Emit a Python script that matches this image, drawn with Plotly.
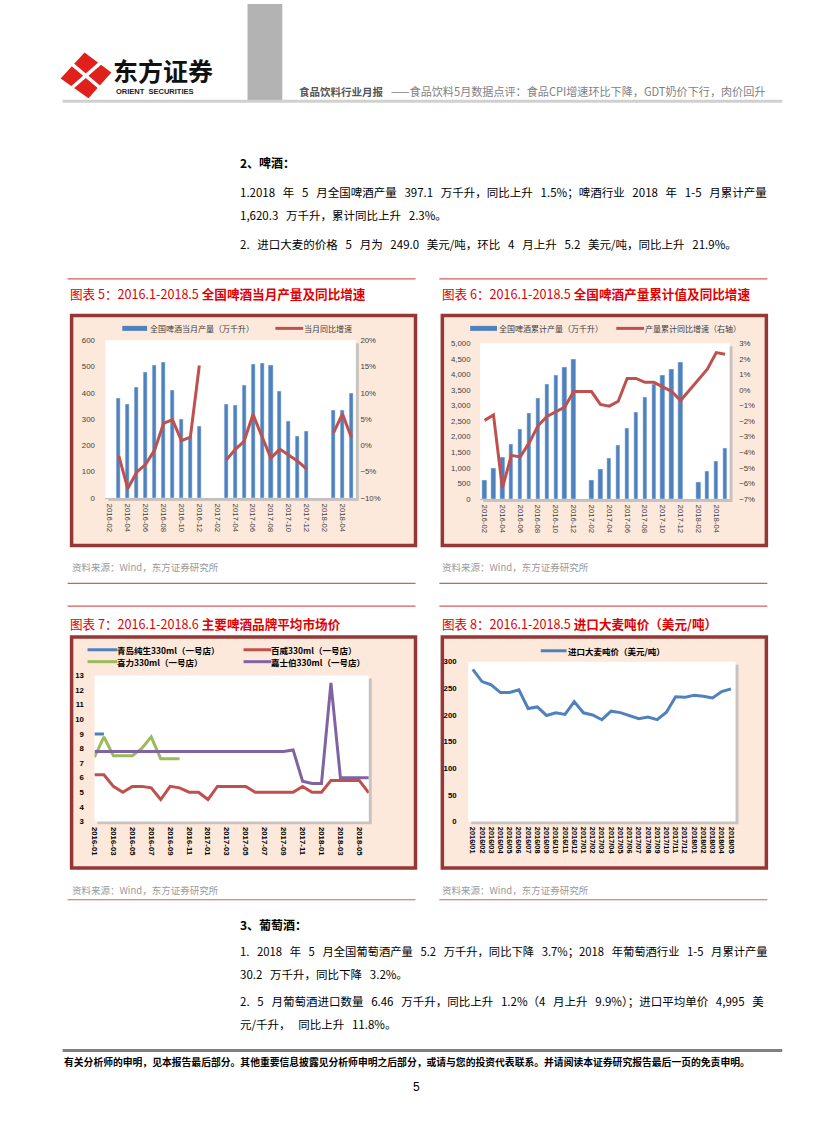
import plotly.graph_objects as go

W, H = 827, 1122
CJK = "Noto Sans CJK SC, Liberation Sans, sans-serif"
LAT = "Liberation Sans, Noto Sans CJK SC, sans-serif"

# ---------------- data ----------------
months5 = ["2016-02", "2016-03", "2016-04", "2016-05", "2016-06", "2016-07", "2016-08",
           "2016-09", "2016-10", "2016-11", "2016-12", "2017-01", "2017-02", "2017-03",
           "2017-04", "2017-05", "2017-06", "2017-07", "2017-08", "2017-09", "2017-10",
           "2017-11", "2017-12", "2018-01", "2018-02", "2018-03", "2018-04", "2018-05"]
beer_month = [None, 380, 355, 423, 479, 506, 515, 408, 298, 231, 272, None, None, 357,
              354, 429, 508, 513, 504, 407, 291, 234, 253, None, None, 335, 335, 397.1]
beer_month_yoy = [None, -2.0, -8.2, -5.1, -3.6, -0.9, 4.2, 4.9, 0.9, 1.6, 15.2, None, None, -2.8,
                  -0.8, 0.8, 5.9, 1.7, -2.4, -0.7, -1.8, -3.0, -4.5, None, None, 2.4, 6.0, 1.5]
beer_cum = [616, 987, 1338, 1752, 2240, 2739, 3248, 3673, 3970, 4225, 4490, None, 595, 945,
            1306, 1741, 2261, 2771, 3280, 3694, 3981, 4161, 4384, None, 552, 881, 1210, 1620.3]
beer_cum_yoy = [-1.95, -1.6, -6.3, -4.2, -4.3, -3.4, -2.3, -1.7, -1.4, -1.1, -0.1, None, -0.1, -0.93,
                -1.04, -0.72, 0.74, 0.74, 0.49, 0.49, 0.17, -0.1, -0.68, None, 0.7, 1.34, 2.4, 2.3]

months7 = ["2016-01", "2016-02", "2016-03", "2016-04", "2016-05", "2016-06", "2016-07", "2016-08",
           "2016-09", "2016-10", "2016-11", "2016-12", "2017-01", "2017-02", "2017-03", "2017-04",
           "2017-05", "2017-06", "2017-07", "2017-08", "2017-09", "2017-10", "2017-11", "2017-12",
           "2018-01", "2018-02", "2018-03", "2018-04", "2018-05", "2018-06"]
tsingtao = [9.0, 9.0, None, None, None, None, None, None, None, None, None, None, None, None, None,
            None, None, None, None, None, None, None, None, None, None, None, None, None, None, None]
budweiser = [6.2, 6.2, 5.4, 5.0, 5.4, 5.4, 5.3, 4.5, 5.4, 5.3, 5.0, 5.0, 4.5, 5.4, 5.4,
             5.4, 5.4, 5.0, 5.0, 5.0, 5.0, 5.0, 5.4, 5.0, 5.0, 5.8, 5.8, 5.8, 5.8, 4.95]
heineken = [7.4, 8.8, 7.5, 7.5, 7.5, 8.0, 8.8, 7.3, 7.3, 7.3, None, None, None, None, None,
            None, None, None, None, None, None, None, None, None, None, None, None, None, None, None]
carlsberg = [7.8, 7.8, 7.8, 7.8, 7.8, 7.8, 7.8, 7.8, 7.8, 7.8, 7.8, 7.8, 7.8, 7.8, 7.8,
             7.8, 7.8, 7.8, 7.8, 7.8, 7.8, 7.9, 5.76, 5.6, 5.6, 12.5, 6.0, 6.0, 6.0, 6.0]
months7_ticks = ["2016-01", "2016-03", "2016-05", "2016-07", "2016-09", "2016-11", "2017-01",
                 "2017-03", "2017-05", "2017-07", "2017-09", "2017-11", "2018-01", "2018-03", "2018-05"]

months8 = ["2016/01", "2016/02", "2016/03", "2016/04", "2016/05", "2016/06", "2016/07", "2016/08",
           "2016/09", "2016/10", "2016/11", "2016/12", "2017/01", "2017/02", "2017/03", "2017/04",
           "2017/05", "2017/06", "2017/07", "2017/08", "2017/09", "2017/10", "2017/11", "2017/12",
           "2018/01", "2018/02", "2018/03", "2018/04", "2018/05"]
barley = [285.7, 262.7, 256.5, 242.0, 242.0, 247.0, 212.0, 215.0, 199.0, 204.0, 201.0, 225.0,
          204.0, 200.0, 191.0, 207.0, 204.3, 198.0, 193.0, 196.0, 191.0, 205.0, 234.0, 233.0,
          237.0, 235.0, 232.0, 243.8, 249.0]

# ---------------- helpers ----------------
def px(x): return x / W
def py(y): return 1 - y / H

shapes, annotations = [], []

def add_rect(x0, y0, x1, y1, fill=None, lc=None, lw=0, layer="below"):
    shapes.append(dict(type="rect", xref="paper", yref="paper", x0=px(x0), x1=px(x1),
                       y0=py(y1), y1=py(y0), fillcolor=fill or "rgba(0,0,0,0)",
                       line=dict(color=lc or "rgba(0,0,0,0)", width=lw), layer=layer))

def add_line(x0, y0, x1, y1, color, w, layer="above"):
    shapes.append(dict(type="line", xref="paper", yref="paper", x0=px(x0), y0=py(y0),
                       x1=px(x1), y1=py(y1), line=dict(color=color, width=w), layer=layer))

def add_path(points, fill):
    d = "M " + " L ".join(f"{px(x):.5f},{py(y):.5f}" for x, y in points) + " Z"
    shapes.append(dict(type="path", xref="paper", yref="paper", path=d, fillcolor=fill,
                       line=dict(width=0), layer="above"))

def add_text(x, y, s, size, color="#000000", xanchor="left", family=CJK, weight="normal"):
    annotations.append(dict(x=px(x), y=py(y), xref="paper", yref="paper", text=s, showarrow=False,
                            xanchor=xanchor, yanchor="middle", borderpad=0,
                            font=dict(size=size, color=color, family=family, weight=weight)))

def wide(s):
    # body copy in the report uses wide word spacing around numbers
    return s.replace(" ", "\u00a0\u00a0\u00a0")

# ---------------- page furniture ----------------
# logo
add_path([(80, 49), (107, 69), (84, 95), (56, 75)], "#E0201B")
add_line(62, 56, 101, 89, "#FFFFFF", 3.5)
add_line(101, 55, 61, 90, "#FFFFFF", 3.5)
add_text(108, 67, "<b>东方证券</b>", 25, "#111111")
add_text(111, 88, "<b>ORIENT  SECURITIES</b>", 7.5, "#222222", family=LAT)
# grey header bar and rule
add_rect(244, 0, 279, 97, fill="#B3B3B3", layer="above")
add_line(58, 98, 782, 98, "#D0D0D0", 3)
add_text(295, 88, "<b>食品饮料行业月报</b>", 10.5, "#555555")
add_text(387, 88, "——食品饮料5月数据点评：食品CPI增速环比下降，GDT奶价下行，肉价回升", 11.1, "#7F7F7F")

# body text
BODY = 11.5
add_text(235, 160, "<b>2、啤酒：</b>", 12, "#000000")
add_text(235, 190, wide("1.2018 年 5 月全国啤酒产量 397.1 万千升，同比上升 1.5%；啤酒行业 2018 年 1-5 月累计产量"), BODY)
add_text(235, 213, wide("1,620.3 万千升，累计同比上升 2.3%。"), BODY)
add_text(235, 242, wide("2. 进口大麦的价格 5 月为 249.0 美元/吨，环比 4 月上升 5.2 美元/吨，同比上升 21.9%。"), BODY)

add_text(235, 928, "<b>3、葡萄酒：</b>", 12, "#000000")
add_text(235, 955, wide("1. 2018 年 5 月全国葡萄酒产量 5.2 万千升，同比下降 3.7%；2018 年葡萄酒行业 1-5 月累计产量"), 11.3)
add_text(235, 978, wide("30.2 万千升，同比下降 3.2%。"), BODY)
add_text(235, 1005, wide("2. 5 月葡萄酒进口数量 6.46 万千升，同比上升 1.2%（4 月上升 9.9%）；进口平均单价 4,995 美"), BODY)
add_text(235, 1028, wide("元/千升， 同比上升 11.8%。"), BODY)

# footer
add_line(58, 1055, 782, 1055, "#808080", 3)
add_text(58, 1067, "<b>有关分析师的申明，见本报告最后部分。其他重要信息披露见分析师申明之后部分，或请与您的投资代表联系。并请阅读本证券研究报告最后一页的免责申明。</b>", 9.8, "#000000")
add_text(414, 1092, "5", 12, "#000000", xanchor="center", family=LAT)

# chart frames, titles, sources
for (xl, xr) in [(63, 413), (437, 767)]:
    add_line(xl, 277, xr, 277, "#D65C5C", 1.2)
    add_line(xl, 584, xr, 584, "#D65C5C", 1.2)
    add_line(xl, 607, xr, 607, "#D65C5C", 1.2)
    add_line(xl, 903, xr, 903, "#D65C5C", 1.2)
TITLE = "#E00000"
TS = 12.6
add_text(64, 292, "图表 5：2016.1-2018.5 <b>全国啤酒当月产量及同比增速</b>", TS, TITLE)
add_text(439, 292, "图表 6：2016.1-2018.5 <b>全国啤酒产量累计值及同比增速</b>", TS, TITLE)
add_text(64, 625, "图表 7：2016.1-2018.6 <b>主要啤酒品牌平均市场价</b>", TS, TITLE)
add_text(439, 625, "图表 8：2016.1-2018.5 <b>进口大麦吨价（美元/吨）</b>", TS, TITLE)
for xs in (66, 439):
    add_text(xs, 568, "资料来源：Wind，东方证券研究所", 9.5, "#9A9A9A")
    add_text(xs, 893, "资料来源：Wind，东方证券研究所", 9.5, "#9A9A9A")

BOX_FILL = "#FCE9DC"
BOX_LINE = "#953735"
boxes = [(67, 314, 413, 546), (440, 314, 766, 546), (67, 638, 413, 871), (440, 638, 766, 871)]
plots = [(101, 339, 353, 498), (478, 342, 729, 499), (90, 677, 366, 824), (466, 663, 735, 824)]
for b in boxes:
    add_rect(*b, fill=BOX_FILL, lc=BOX_LINE, lw=3.5)
for p in plots:
    add_rect(p[0] + 3, p[1] + 3, p[2] + 3, p[3] + 3, fill="#C9C3C0")
    add_rect(*p, fill="#FFFFFF")

# manual legends
BLUE, LRED, GREEN, PURPLE = "#4F81BD", "#C0504D", "#9BBB59", "#8064A2"
add_line(118, 327, 143, 327, BLUE, 5)
add_text(145, 327, "全国啤酒当月产量（万千升）", 8, "#404040")
add_line(272, 327, 300, 327, LRED, 3)
add_text(300, 327, "当月同比增速", 8, "#404040")
add_line(468, 327, 495, 327, BLUE, 5)
add_text(496, 327, "全国啤酒累计产量（万千升）", 8, "#404040")
add_line(615, 327, 643, 327, LRED, 3)
add_text(643, 327, "产量累计同比增速（右轴）", 8, "#404040")
add_line(83, 651, 113, 651, BLUE, 3)
add_text(112, 651, "<b>青岛纯生330ml（一号店）</b>", 8.5, "#000000")
add_line(240, 651, 268, 651, LRED, 3)
add_text(267, 651, "<b>百威330ml（一号店）</b>", 8.5, "#000000")
add_line(83, 663, 113, 663, GREEN, 3)
add_text(112, 663, "<b>喜力330ml（一号店）</b>", 8.5, "#000000")
add_line(240, 663, 268, 663, PURPLE, 3)
add_text(267, 663, "<b>嘉士伯330ml（一号店）</b>", 8.5, "#000000")
add_line(539, 652, 565, 652, BLUE, 3)
add_text(565, 652, "<b>进口大麦吨价（美元/吨）</b>", 8.5, "#000000")

# ---------------- traces ----------------
fig = go.Figure()
fig.add_trace(go.Bar(x=months5, y=beer_month, marker_color=BLUE, width=0.45,
                     xaxis="x", yaxis="y", showlegend=False))
fig.add_trace(go.Scatter(x=months5, y=beer_month_yoy, mode="lines", line=dict(color=LRED, width=3),
                         xaxis="x", yaxis="y2", connectgaps=False, showlegend=False))
fig.add_trace(go.Bar(x=months5, y=beer_cum, marker_color=BLUE, width=0.5,
                     xaxis="x2", yaxis="y3", showlegend=False))
fig.add_trace(go.Scatter(x=months5, y=beer_cum_yoy, mode="lines", line=dict(color=LRED, width=3),
                         xaxis="x2", yaxis="y4", connectgaps=True, showlegend=False))
for series, col in [(tsingtao, BLUE), (budweiser, LRED), (heineken, GREEN), (carlsberg, PURPLE)]:
    fig.add_trace(go.Scatter(x=months7, y=series, mode="lines", line=dict(color=col, width=3),
                             xaxis="x3", yaxis="y5", connectgaps=False, showlegend=False))
fig.add_trace(go.Scatter(x=months8, y=barley, mode="lines", line=dict(color=BLUE, width=3),
                         xaxis="x4", yaxis="y6", showlegend=False))

def xdom(p): return [px(p[0]), px(p[2])]
def ydom(p): return [py(p[3]), py(p[1])]

small = dict(size=7.8, color="#404040", family=LAT)
boldf = dict(size=7.8, color="#000000", family=LAT, weight="bold")
common = dict(showgrid=False, zeroline=False, ticks="outside", tickcolor="rgba(0,0,0,0)")

fig.update_layout(
    width=W, height=H, margin=dict(l=0, r=0, t=0, b=0), autosize=False,
    paper_bgcolor="#FFFFFF", plot_bgcolor="rgba(0,0,0,0)", bargap=0,
    shapes=shapes, annotations=annotations,
    xaxis=dict(domain=xdom(plots[0]), anchor="y", type="category", categoryorder="array",
               categoryarray=months5, tickvals=months5[::2], tickangle=90, tickfont=small,
               range=[-0.5, 27.5], showline=True, linecolor="#BFBFBF", ticklen=3, **common),
    yaxis=dict(domain=ydom(plots[0]), anchor="x", range=[0, 600], dtick=100, tickfont=small,
               ticklen=8, **common),
    yaxis2=dict(overlaying="y", anchor="x", side="right", range=[-10, 20], dtick=5, ticksuffix="%",
                tickfont=small, ticklen=2, **common),
    xaxis2=dict(domain=xdom(plots[1]), anchor="y3", type="category", categoryorder="array",
                categoryarray=months5, tickvals=months5[::2], tickangle=90, tickfont=small,
                range=[-0.5, 27.5], showline=True, linecolor="#BFBFBF", ticklen=3, **common),
    yaxis3=dict(domain=ydom(plots[1]), anchor="x2", range=[0, 5000], dtick=500, tickformat=",d",
                tickfont=small, ticklen=7, **common),
    yaxis4=dict(overlaying="y3", anchor="x2", side="right", range=[-7, 3], dtick=1, ticksuffix="%",
                tickfont=small, ticklen=7, **common),
    xaxis3=dict(domain=xdom(plots[2]), anchor="y5", type="category", categoryorder="array",
                categoryarray=months7, tickvals=months7_ticks, tickangle=90, tickfont=boldf,
                range=[0, 29], showline=False, ticklen=3, **common),
    yaxis5=dict(domain=ydom(plots[2]), anchor="x3", range=[3, 13], dtick=1, tickfont=boldf,
                ticklen=8, **common),
    xaxis4=dict(domain=xdom(plots[3]), anchor="y6", type="category", categoryorder="array",
                categoryarray=months8, tickvals=months8, tickangle=90,
                tickfont=dict(size=7.4, color="#000000", family=LAT, weight="bold"),
                range=[-0.5, 28.5], showline=False, ticklen=3, **common),
    yaxis6=dict(domain=ydom(plots[3]), anchor="x4", range=[0, 300], dtick=50, tickfont=boldf,
                ticklen=9, **common),
)

fig.write_html("out.html", config={"displayModeBar": False},
               post_script="document.body.style.margin='0px';document.body.style.overflow='hidden';")
